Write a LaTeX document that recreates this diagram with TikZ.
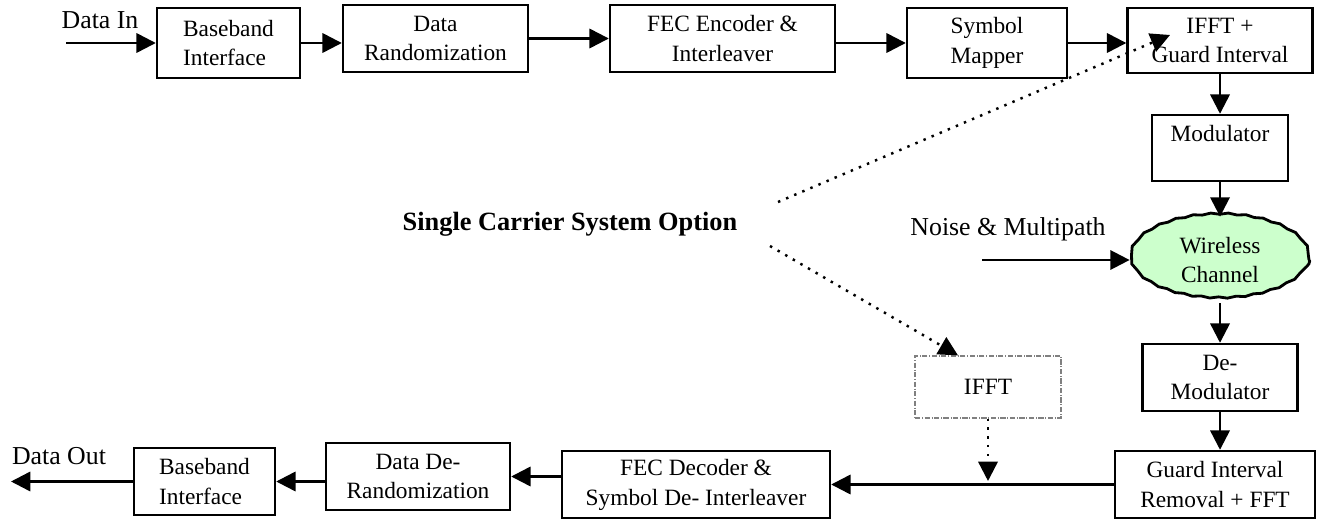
\documentclass[tikz,border=0pt]{standalone}
\usepackage{fontspec}
\setmainfont{Liberation Serif}
\usetikzlibrary{arrows.meta,shapes.geometric,decorations.pathmorphing}
\definecolor{chan}{HTML}{CCFFCC}

\begin{document}
\begin{tikzpicture}[x=0.02cm,y=-0.02cm,
	blk/.style={draw,line width=1.4pt,align=center,inner sep=1pt,font=\fontsize{13.3}{17}\selectfont},
	lbl/.style={font=\fontsize{14.7}{17}\selectfont},
	arr/.style={line width=1.4pt,-{Triangle[length=11pt,width=11pt]}},
	opt/.style={line width=1.4pt,dash pattern=on 1.4pt off 3.6pt,-{Triangle[length=11pt,width=11pt]}}]
				\useasboundingbox (0,0) rectangle (1318,520);
				
				% transmitter
				\node[lbl] (din) at (100,20) {Data In};
				\node[blk,align=left,minimum width=2.86cm,minimum height=1.4cm] (bb1) at (228.5,43) {Baseband\\Interface};
				\node[blk,minimum width=3.7cm,minimum height=1.34cm] (rnd) at (435.5,38.5) {Data\\Randomization};
				\node[blk,minimum width=4.5cm,minimum height=1.34cm] (enc) at (722.5,38.5) {FEC Encoder \&\\Interleaver};
				\node[blk,minimum width=3.2cm,minimum height=1.4cm] (map) at (987,43) {Symbol\\Mapper};
				\node[blk,minimum width=3.7cm,minimum height=1.3cm] (gi) at (1220,40.5) {IFFT +\\Guard Interval};
				\node[blk,minimum width=2.72cm,minimum height=1.32cm] (mod) at (1220,148) {Modulator\\\mbox{}};
				
				% channel
				\node[blk,ellipse,fill=chan,inner sep=0pt,line width=1.6pt,minimum width=3.56cm,minimum height=1.68cm,
					decorate,decoration={snake,amplitude=0.4pt,segment length=10pt}] (wc) at (1220,260) {Wireless\\Channel};
				\node[lbl] (noise) at (1008,229) {Noise \& Multipath};
				\coordinate (nz) at (982,260);
				
				% receiver
				\node[blk,minimum width=3.1cm,minimum height=1.34cm] (dmod) at (1220,377.5) {De-\\Modulator};
				\node[blk,minimum width=4cm,minimum height=1.34cm] (gir) at (1215,484.5) {Guard Interval\\Removal + FFT};
				\node[blk,minimum width=5.36cm,minimum height=1.34cm] (dec) at (696,484.5) {FEC Decoder \&\\Symbol De- Interleaver};
				\node[blk,minimum width=3.68cm,minimum height=1.34cm] (drnd) at (418,476.5) {Data De-\\Randomization};
				\node[blk,align=left,minimum width=2.82cm,minimum height=1.34cm] (bb2) at (204.5,481.5) {Baseband\\Interface};
				\node[lbl] (dout) at (59,456) {Data Out};
				
				% single carrier option
				\node[font=\bfseries\fontsize{15}{18}\selectfont] (sco) at (570,224) {Single Carrier System Option};
				\node[draw=gray,densely dash dot,line width=0.7pt,minimum width=2.92cm,minimum height=1.24cm,
					font=\fontsize{13.3}{17}\selectfont] (ifft) at (988,387) {IFFT};
				\coordinate (opt1) at (778,202);
				\coordinate (tip1) at (1170,35);
				\coordinate (opt2) at (770,246);
				\coordinate (in0) at (66,43);
				\coordinate (out0) at (11,482);
				
				\draw[arr] (in0) -- (in0 -| bb1.west);
				\draw[arr] (bb1.east) -- (bb1.east -| rnd.west);
				\draw[arr] (rnd.east) -- (enc.west);
				\draw[arr] (enc.east |- map.west) -- (map.west);
				\draw[arr] (map.east) -- (map.east -| gi.west);
				\draw[arr] (gi.south) -- (mod.north);
				\draw[arr] (mod.south) -- (wc.north);
				\draw[arr] (nz) -- (wc);
				\draw[arr] (wc.south) -- (dmod.north);
				\draw[arr] (dmod.south) -- (dmod.south |- gir.north);
				\draw[arr] (gir.west) -- (gir.west -| dec.east);
				\draw[arr] (drnd.east -| dec.west) -- (drnd.east);
				\draw[arr] (bb2.east -| drnd.west) -- (bb2.east);
				\draw[arr] (bb2.west) -- (out0 |- bb2.west);
				
				\draw[opt] (opt1) -- (tip1);
				\draw[opt] (opt2) -- ([xshift=-0.6cm]ifft.north);
				\draw[opt,shorten >=2pt] (ifft.south) -- (ifft.south |- gir.west);
			\end{tikzpicture}
\end{document}
